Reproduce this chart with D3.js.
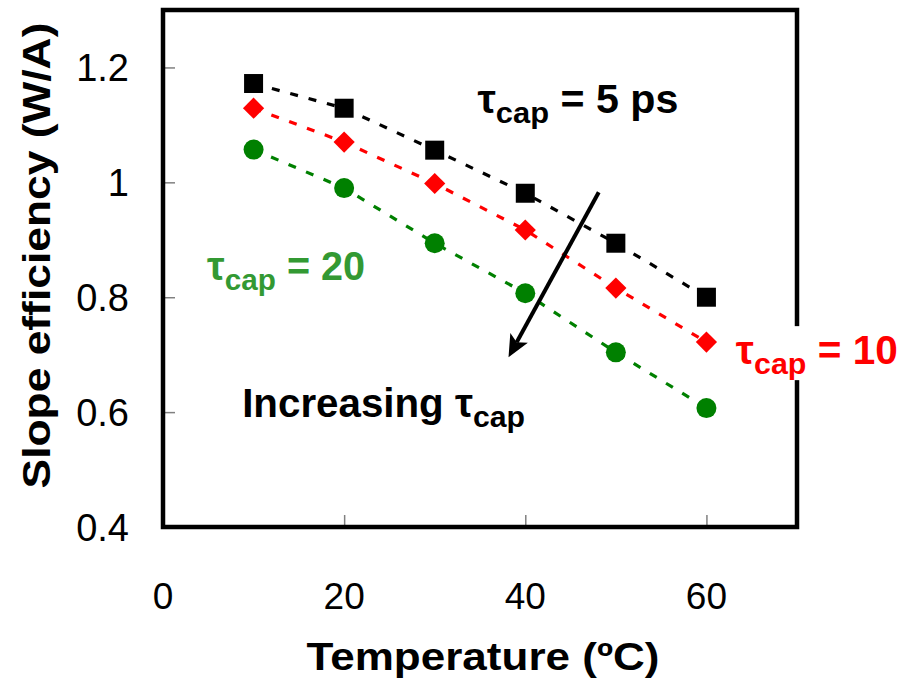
<!DOCTYPE html>
<html>
<head>
<meta charset="utf-8">
<script src="https://cdn.jsdelivr.net/npm/d3@7"></script>
<style>
  html, body { margin: 0; padding: 0; background: #fff; }
  svg { display: block; }
  text { font-family: "Liberation Sans", Arial, Helvetica, sans-serif; }
</style>
</head>
<body>
<svg id="chart" width="917" height="682"></svg>
<script>
// ---------------- data ----------------
const temperatures = [10, 20, 30, 40, 50, 60];
const tau5  = [1.172, 1.129, 1.056, 0.981, 0.894, 0.800];
const tau10 = [1.129, 1.070, 0.998, 0.917, 0.816, 0.722];
const tau20 = [1.057, 0.990, 0.894, 0.807, 0.704, 0.607];
const xTicks = [0, 20, 40, 60];
const yTicks = [0.4, 0.6, 0.8, 1.0, 1.2];
const xTickLabels = ["0", "20", "40", "60"];
const yTickLabels = ["0.4", "0.6", "0.8", "1", "1.2"];
const xTitle = "Temperature (ºC)";
const yTitle = "Slope efficiency (W/A)";

// ---------------- layout ----------------
const svg = d3.select("#chart");
const plot = { left: 163, top: 10, right: 797, bottom: 527 };
const x = d3.scaleLinear().domain([0, 70]).range([plot.left, plot.right]);
const y = d3.scaleLinear().domain([0.4, 1.3]).range([plot.bottom, plot.top]);

// ticks (inside, grey)
const xAxis = d3.axisTop(x).tickValues(xTicks.filter(v => v > 0)).tickSize(12).tickFormat("");
const yAxis = d3.axisRight(y).tickValues(yTicks.filter(v => v > 0.4)).tickSize(12).tickFormat("");
const gx = svg.append("g").attr("transform", `translate(0,${plot.bottom})`).call(xAxis);
const gy = svg.append("g").attr("transform", `translate(${plot.left},0)`).call(yAxis);
[gx, gy].forEach(g => {
  g.select(".domain").remove();
  g.selectAll(".tick line").attr("stroke", "#808080").attr("stroke-width", 1.5);
});

// tick labels
svg.append("g").selectAll("text").data(xTicks).join("text")
  .attr("x", d => x(d)).attr("y", 609)
  .attr("text-anchor", "middle").attr("font-size", 37).attr("fill", "#000")
  .text((d, i) => xTickLabels[i]);
svg.append("g").selectAll("text").data(yTicks).join("text")
  .attr("x", 129).attr("y", d => y(d) + 14)
  .attr("text-anchor", "end").attr("font-size", 38).attr("fill", "#000")
  .text((d, i) => yTickLabels[i]);

// helper: horizontal stretch factor to reach a target width
function fitText(g, target) {
  const w = g.node().getBBox().width;
  return w > 0 ? target / w : 1;
}

// axis titles
const xt = svg.append("text").attr("text-anchor", "middle")
  .attr("font-size", 38).attr("font-weight", "bold").text(xTitle);
const xs = fitText(xt, 353);
xt.attr("transform", `translate(${(plot.left + plot.right) / 2 + 3},670) scale(${xs},1)`);

const yt = svg.append("text").attr("text-anchor", "middle")
  .attr("font-size", 38).attr("font-weight", "bold").text(yTitle);
const ys = fitText(yt, 466);
yt.attr("transform", `translate(50,${(plot.top + plot.bottom) / 2 - 13}) rotate(-90) scale(${ys},1)`);

// series
const seriesList = [
  { values: tau5,  color: "#000000", shape: "square" },
  { values: tau10, color: "#ff0000", shape: "diamond" },
  { values: tau20, color: "#008000", shape: "circle" }
];
const line = d3.line().x((d, i) => x(temperatures[i])).y(d => y(d));
seriesList.forEach(s => {
  svg.append("path").attr("d", line(s.values))
    .attr("fill", "none").attr("stroke", s.color).attr("stroke-width", 3.2)
    .attr("stroke-dasharray", "8,11");
});
const symbolFor = { square: d3.symbolSquare, diamond: d3.symbolSquare, circle: d3.symbolCircle };
const sizeFor = { square: 19 * 19, diamond: 15 * 15, circle: Math.PI * 10 * 10 };
seriesList.forEach(s => {
  svg.append("g").selectAll("path").data(s.values).join("path")
    .attr("d", d3.symbol().type(symbolFor[s.shape]).size(sizeFor[s.shape]))
    .attr("transform", (d, i) => `translate(${x(temperatures[i])},${y(d)})` + (s.shape === "diamond" ? " rotate(45)" : ""))
    .attr("fill", s.color);
});

// frame
svg.append("rect").attr("x", plot.left).attr("y", plot.top)
  .attr("width", plot.right - plot.left).attr("height", plot.bottom - plot.top)
  .attr("fill", "none").attr("stroke", "#000").attr("stroke-width", 4.5);

// annotations
function tauLabel(tx, ty, tail, color, target, mainSize, subSize, prefix, bg) {
  const g = svg.append("g");
  let bgRect = null;
  if (bg) bgRect = g.append("rect").attr("fill", "#fff");
  const t = g.append("text").attr("fill", color).attr("font-weight", "bold").attr("font-size", mainSize);
  if (prefix) t.append("tspan").text(prefix);
  t.append("tspan").text("τ");
  t.append("tspan").attr("font-size", subSize).attr("dy", 10).text("cap");
  if (tail) t.append("tspan").attr("dy", -10).text(tail);
  const bb = t.node().getBBox();
  const sc = target / bb.width;
  g.attr("transform", `translate(${tx},${ty}) scale(${sc},1)`);
  if (bgRect) {
    bgRect.attr("x", bb.x - 4).attr("y", bb.y - 2).attr("width", bb.width + 8).attr("height", bb.height + 2);
  }
  return g;
}
tauLabel(x(34.72), y(1.12), " = 5 ps", "#000000", 201, 40, 30);
tauLabel(x(63.25), y(0.6835), " = 10", "#ff0000", 162, 40, 30, null, true);
tauLabel(x(4.87), y(0.8296), " = 20", "#339933", 158, 40, 30);
tauLabel(x(8.74), y(0.5913), null, "#000000", 283, 40, 30, "Increasing ");

// arrow (shaft + filled head)
const ax1 = x(48.11), ay1 = y(0.9826), ax2 = x(38.15), ay2 = y(0.6957);
const ang = Math.atan2(ay2 - ay1, ax2 - ax1);
const headLen = 22, headHalf = 10, notch = 5;
const ux = Math.cos(ang), uy = Math.sin(ang), px = -uy, py = ux;
svg.append("line")
  .attr("x1", ax1).attr("y1", ay1)
  .attr("x2", ax2 - ux * (headLen - notch)).attr("y2", ay2 - uy * (headLen - notch))
  .attr("stroke", "#000").attr("stroke-width", 4);
const bx = ax2 - ux * headLen, by = ay2 - uy * headLen;
const head = d3.path();
head.moveTo(ax2, ay2);
head.lineTo(bx + px * headHalf, by + py * headHalf);
head.lineTo(ax2 - ux * (headLen - notch), ay2 - uy * (headLen - notch));
head.lineTo(bx - px * headHalf, by - py * headHalf);
head.closePath();
svg.append("path").attr("d", head.toString()).attr("fill", "#000");
</script>
</body>
</html>
